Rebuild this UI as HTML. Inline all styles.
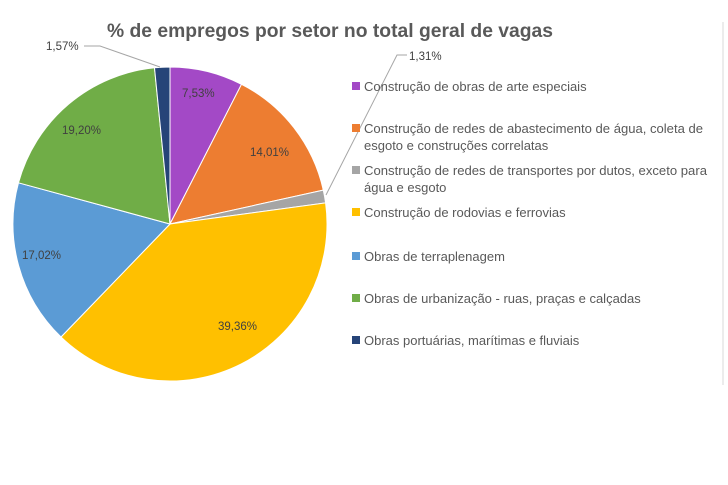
<!DOCTYPE html>
<html><head><style>
body{margin:0;background:#fff;}
svg{display:block;font-family:"Liberation Sans",sans-serif;}
</style></head><body>
<svg width="728" height="485" viewBox="0 0 728 485">
<rect width="728" height="485" fill="#fff"/>
<line x1="723" y1="22" x2="723" y2="385" stroke="#d9d9d9" stroke-width="1"/>
<text x="330" y="37" text-anchor="middle" font-size="19" font-weight="bold" fill="#595959" textLength="446" lengthAdjust="spacingAndGlyphs">% de empregos por setor no total geral de vagas</text>
<g stroke="#fff" stroke-width="1">
<path d="M170,224 L170,67 A157,157 0 0 1 241.5,84.3 Z" fill="#A349C6"/>
<path d="M170,224 L241.5,84.3 A157,157 0 0 1 323.3,190.1 Z" fill="#ED7D31"/>
<path d="M170,224 L323.3,190.1 A157,157 0 0 1 325.6,202.9 Z" fill="#A5A5A5"/>
<path d="M170,224 L325.6,202.9 A157,157 0 0 1 61.0,337.0 Z" fill="#FFC000"/>
<path d="M170,224 L61.0,337.0 A157,157 0 0 1 18.5,182.8 Z" fill="#5B9BD5"/>
<path d="M170,224 L18.5,182.8 A157,157 0 0 1 154.5,67.8 Z" fill="#70AD47"/>
<path d="M170,224 L154.5,67.8 A157,157 0 0 1 170,67 Z" fill="#264478"/>
</g>
<g font-size="11.5" fill="#404040">
<text x="182" y="97">7,53%</text>
<text x="250" y="156">14,01%</text>
<text x="218" y="330">39,36%</text>
<text x="22" y="259">17,02%</text>
<text x="62" y="134">19,20%</text>
<text x="46" y="50">1,57%</text>
<text x="409" y="60">1,31%</text>
</g>
<polyline points="84,46 100,46 160,67" fill="none" stroke="#a6a6a6" stroke-width="1"/>
<polyline points="407,55 397,55 326,195" fill="none" stroke="#a6a6a6" stroke-width="1"/>
<g font-size="13" fill="#595959">
<rect x="352" y="82" width="8" height="8" fill="#A349C6"/>
<text x="364" y="91">Construção de obras de arte especiais</text>
<rect x="352" y="124" width="8" height="8" fill="#ED7D31"/>
<text x="364" y="133" textLength="339" lengthAdjust="spacingAndGlyphs">Construção de redes de abastecimento de água, coleta de</text>
<text x="364" y="150">esgoto e construções correlatas</text>
<rect x="352" y="166" width="8" height="8" fill="#A5A5A5"/>
<text x="364" y="175" textLength="343" lengthAdjust="spacingAndGlyphs">Construção de redes de transportes por dutos, exceto para</text>
<text x="364" y="192">água e esgoto</text>
<rect x="352" y="208" width="8" height="8" fill="#FFC000"/>
<text x="364" y="217">Construção de rodovias e ferrovias</text>
<rect x="352" y="252" width="8" height="8" fill="#5B9BD5"/>
<text x="364" y="261">Obras de terraplenagem</text>
<rect x="352" y="294" width="8" height="8" fill="#70AD47"/>
<text x="364" y="303">Obras de urbanização - ruas, praças e calçadas</text>
<rect x="352" y="336" width="8" height="8" fill="#264478"/>
<text x="364" y="345">Obras portuárias, marítimas e fluviais</text>
</g>
</svg>
</body></html>
